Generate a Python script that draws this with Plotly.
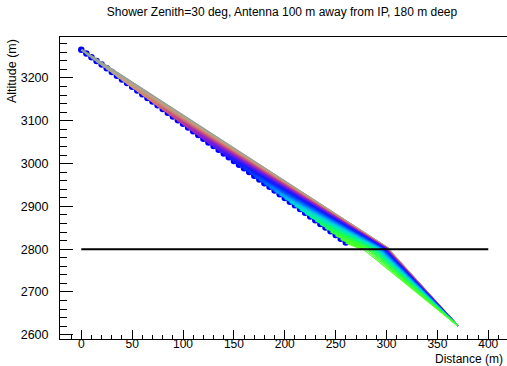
import plotly.graph_objects as go

# ---- data ----
start_x = [0, 5, 10, 15, 20, 25, 30, 35, 40, 45, 50, 55, 60, 65, 70, 75, 80, 85, 90, 95,
           100, 105, 110, 115, 120, 125, 130, 135, 140, 145, 150, 155, 160, 165, 170, 175,
           180, 185, 190, 195, 200, 205, 210, 215, 220, 225, 230, 235, 240, 245, 250, 255, 260]
start_z = [3266.0, 3257.3, 3248.7, 3240.0, 3231.4, 3222.7, 3214.0, 3205.4, 3196.7, 3188.1,
           3179.4, 3170.7, 3162.1, 3153.4, 3144.8, 3136.1, 3127.4, 3118.8, 3110.1, 3101.5,
           3092.8, 3084.1, 3075.5, 3066.8, 3058.2, 3049.5, 3040.8, 3032.2, 3023.5, 3014.9,
           3006.2, 2997.5, 2988.9, 2980.2, 2971.6, 2962.9, 2954.2, 2945.6, 2936.9, 2928.3,
           2919.6, 2910.9, 2902.3, 2893.6, 2885.0, 2876.3, 2867.6, 2859.0, 2850.3, 2841.7,
           2833.0, 2824.3, 2815.7]
refr_x = [302.0, 302.0, 301.9, 301.8, 301.7, 301.6, 301.5, 301.4, 301.3, 301.2,
          301.1, 301.0, 300.9, 300.8, 300.7, 300.6, 300.5, 300.4, 300.3, 300.1,
          300.0, 299.8, 299.6, 299.4, 299.2, 299.0, 298.8, 298.5, 298.2, 297.9,
          297.5, 297.1, 296.7, 296.3, 295.8, 295.3, 294.8, 294.2, 293.6, 292.9,
          292.2, 291.4, 290.6, 289.7, 288.8, 287.8, 286.8, 285.6, 284.4, 283.0,
          281.5, 279.5, 277.0]
ray_colors = ["#8c9e9a", "#8fa09a", "#93a29a", "#98a398", "#a0a496", "#aaa490", "#b4a38a",
              "#bca186", "#c29e82", "#c69a7e", "#c9957a", "#cc8f76", "#ce8872", "#cf7f70",
              "#cf7570", "#cd6a74", "#c95e7a", "#c45282", "#bd468c", "#b43c98", "#aa34a6",
              "#9e2eb4", "#9028c2", "#8224ce", "#7420da", "#641ee4", "#541cec", "#441af2",
              "#3418f8", "#2418fc", "#1818ff", "#1020ff", "#0a2cff", "#0638ff", "#0446ff",
              "#0256ff", "#0068ff", "#007cff", "#0092ff", "#00a8f8", "#00bcee", "#00cee0",
              "#00dcd0", "#00e6bc", "#00eea6", "#04f490", "#0cf87a", "#16fb64", "#22fc50",
              "#2efd40", "#3afe34", "#44ff2c", "#4cff26"]
surface_z = 2800
antenna_x = 370
antenna_z = 2621
surface_line_x = [0, 400]
surface_line_z = [2800, 2800]

FONT = "Liberation Sans, Arial, Helvetica, sans-serif"

fig = go.Figure()

# start points on the shower axis
fig.add_trace(go.Scatter(x=start_x, y=start_z, mode="markers",
                         marker=dict(color="#0000ff", size=6.5, line=dict(width=0)),
                         hoverinfo="skip"))

# rays: air segment and ice segment
for sx, sz, rx, col in zip(start_x, start_z, refr_x, ray_colors):
    fig.add_trace(go.Scatter(x=[sx, rx], y=[sz, surface_z], mode="lines",
                             line=dict(color=col, width=2.5), hoverinfo="skip"))
    fig.add_trace(go.Scatter(x=[rx, antenna_x], y=[surface_z, antenna_z], mode="lines",
                             line=dict(color=col, width=1.2), hoverinfo="skip"))

# surface line
fig.add_trace(go.Scatter(x=surface_line_x, y=surface_line_z, mode="lines",
                         line=dict(color="black", width=2), hoverinfo="skip"))

W, H = 507, 366
L, R, T, B = 60, 0, 37, 27
pw, ph = W - L - R, H - T - B

fig.update_layout(
    width=W, height=H,
    margin=dict(l=L, r=R, t=T, b=B, pad=0),
    paper_bgcolor="white", plot_bgcolor="white",
    showlegend=False,
    font=dict(family=FONT, size=12, color="black"),
    title=dict(text="Shower Zenith=30 deg, Antenna 100 m away from IP, 180 m deep",
               xref="container", yref="container", x=282 / W, y=1 - 12 / H,
               xanchor="center", yanchor="middle",
               font=dict(family=FONT, size=12, color="black")),
    xaxis=dict(range=[-20.9, 418.4], tick0=0, dtick=50,
               ticks="inside", ticklen=9, tickwidth=1, tickcolor="black",
               showline=True, linecolor="black", linewidth=1, mirror=True,
               showgrid=False, zeroline=False, ticklabelstandoff=-6,
               tickfont=dict(family=FONT, size=12, color="black"),
               minor=dict(ticks="inside", ticklen=4.5, tick0=0, dtick=10,
                          tickcolor="black", tickwidth=1, showgrid=False)),
    yaxis=dict(range=[2590, 3295.8], tick0=2600, dtick=100,
               ticks="inside", ticklen=13, tickwidth=1, tickcolor="black",
               showline=True, linecolor="black", linewidth=1, mirror=False,
               showgrid=False, zeroline=False, ticklabelstandoff=8,
               tickfont=dict(family=FONT, size=12.5, color="black"),
               minor=dict(ticks="inside", ticklen=6.5, tick0=2600, dtick=20,
                          tickcolor="black", tickwidth=1, showgrid=False)),
    annotations=[
        dict(text="Altitude (m)", xref="paper", yref="paper",
             x=(12 - L) / pw, y=1.0, xanchor="center", yanchor="top",
             textangle=-90, showarrow=False,
             font=dict(family=FONT, size=12.5, color="black")),
        dict(text="Distance (m)", xref="paper", yref="paper",
             x=(505 - L) / pw, y=-(359.3 - (T + ph)) / ph, xanchor="right", yanchor="middle",
             showarrow=False, font=dict(family=FONT, size=12, color="black")),
    ],
)

fig.write_html("out.html")
